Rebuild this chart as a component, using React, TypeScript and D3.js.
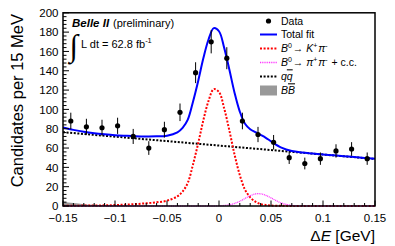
import React from 'react';
import * as d3 from 'd3';

// data points (bin centres in GeV, 15 MeV bins)
const binCenters = [-0.1425, -0.1275, -0.1125, -0.0975, -0.0825, -0.0675, -0.0525, -0.0375, -0.0225, -0.0075,
  0.0075, 0.0225, 0.0375, 0.0525, 0.0675, 0.0825, 0.0975, 0.1125, 0.1275, 0.1425];
const counts = [88, 82, 81, 83, 72, 60, 79, 97, 138, 170, 153, 88, 74, 66, 50, 44, 49, 57, 59, 49];
const countErrors = [8.6, 8.3, 8.3, 8.4, 7.8, 7.1, 8.2, 9.1, 10.8, 12.0, 11.4, 8.6, 7.9, 7.5, 6.5, 6.1, 6.4, 6.9, 7.1, 6.4];

// fit curves
const fitDE = [-0.15, -0.14, -0.13, -0.12, -0.11, -0.10, -0.09, -0.08, -0.07, -0.06, -0.05, -0.04,
  -0.035, -0.03, -0.025, -0.02, -0.015, -0.01, -0.005, 0, 0.005, 0.01, 0.015, 0.02, 0.025, 0.03, 0.035, 0.04, 0.045,
  0.05, 0.06, 0.07, 0.08, 0.09, 0.10, 0.11, 0.12, 0.13, 0.14, 0.15];
const totalFit = [81.2, 78.8, 76.8, 75.3, 74.2, 73.3, 72.7, 72.2, 72.0, 72.1, 72.8, 76.3,
  80.9, 89.4, 108.0, 129.5, 153.1, 172.6, 184.1, 180.9, 163.7, 141.0, 117.0, 97.7, 85.2, 79.5, 76.4, 73.6, 70.6,
  66.9, 60.4, 56.9, 55.4, 54.4, 53.4, 52.5, 51.6, 50.7, 49.7, 48.8];
const sigKpi = [0.3, 0.3, 0.4, 0.5, 0.7, 1.0, 1.4, 2.0, 2.8, 3.8, 5.5, 10,
  15, 24, 43, 65, 89, 109, 121, 118, 101, 78, 53, 32, 17, 9, 4.5, 2, 1,
  0.5, 0.2, 0.1, 0, 0, 0, 0, 0, 0, 0, 0];
const sigPipi = [0, 0, 0, 0, 0, 0, 0, 0, 0, 0, 0, 0,
  0, 0, 0, 0, 0, 0, 0, 0.2, 0.5, 1.3, 2.7, 4.9, 7.8, 10.6, 12.5, 12.6, 11.1,
  8.4, 3.1, 0.6, 0.1, 0, 0, 0, 0, 0, 0, 0];
const bbBar = [4.5, 3.0, 1.9, 1.2, 0.8, 0.5, 0.35, 0.25, 0.2, 0.15, 0.1, 0.1,
  0.1, 0.1, 0.1, 0.1, 0.1, 0.1, 0.1, 0.1, 0.1, 0.1, 0.1, 0.1, 0.1, 0.1, 0.1, 0.1, 0.1,
  0.1, 0.1, 0.1, 0.1, 0.1, 0.1, 0.1, 0.1, 0.1, 0.1, 0.1];
const qqDE = [-0.15, 0.15];
const qqFit = [76.4, 48.7];

const yTicks = [0, 20, 40, 60, 80, 100, 120, 140, 160, 180, 200];
const xTicks = [-0.15, -0.1, -0.05, 0, 0.05, 0.1, 0.15];
const xTickLabels = ['\u22120.15', '\u22120.1', '\u22120.05', '0', '0.05', '0.1', '0.15'];

const FONT = 'Liberation Sans, Arial, Helvetica, sans-serif';

const App = () => {
  const width = 395;
  const height = 246;
  const x = d3.scaleLinear().domain([-0.15, 0.15]).range([63, 375]);
  const y = d3.scaleLinear().domain([0, 200]).range([206, 12.8]);

  const curve = (vals: number[]) =>
    d3.line<number>()
      .x((_, i) => x(fitDE[i]))
      .y(d => y(d))
      .curve(d3.curveCatmullRom)(vals) || '';

  const bbArea = d3.area<number>()
    .x((_, i) => x(fitDE[i]))
    .y0(y(0))
    .y1(d => y(d))
    .curve(d3.curveMonotoneX)(bbBar) || '';

  const qqLine = d3.line<number>()
    .x((_, i) => x(qqDE[i]))
    .y(d => y(d))(qqFit) || '';

  const xMinor = d3.range(-15, 16).map(v => v / 100);
  const yMinor = d3.range(0, 201, 4);

  const sup = (s: string, size = 7, shift = 4.5) => [
    <tspan key={'a' + s} fontSize={size} dy={-shift}>{s}</tspan>,
    <tspan key={'b' + s} dy={shift}>{'\u200a'}</tspan>,
  ];

  const legendRows = [21, 34.5, 48.5, 62.5, 76.5, 90.5];
  const lx0 = 260, lx1 = 277, tx = 281;

  return (
    <svg width={width} height={height} style={{ position: 'absolute', left: 0, top: 0 }} fontFamily={FONT}>
      <rect x={0} y={0} width={width} height={height} fill="white" />

      {/* curves */}
      <path d={bbArea} fill="#999" stroke="none" />
      <path d={qqLine} fill="none" stroke="black" strokeWidth={2} strokeDasharray="2 1.6" />
      <path d={curve(sigKpi)} fill="none" stroke="#ff0000" strokeWidth={2} strokeDasharray="2 1.6" />
      <path d={curve(sigPipi)} fill="none" stroke="#ff33ff" strokeWidth={1.3} strokeDasharray="1 0.8" />
      <path d={curve(totalFit)} fill="none" stroke="#0000ff" strokeWidth={2} />

      {/* data */}
      {binCenters.map((c, i) => (
        <g key={i}>
          <line x1={x(c)} x2={x(c)} y1={y(counts[i] - countErrors[i])} y2={y(counts[i] + countErrors[i])}
            stroke="black" strokeWidth={1} />
          <circle cx={x(c)} cy={y(counts[i])} r={2.6} fill="black" />
        </g>
      ))}

      {/* frame */}
      <rect x={63} y={y(200)} width={312} height={y(0) - y(200)} fill="none" stroke="black" strokeWidth={1.5} />

      {/* y axis ticks */}
      {yMinor.map(v => (
        <line key={v} x1={63} x2={63 + (v % 20 === 0 ? 6 : 3.5)} y1={y(v)} y2={y(v)} stroke="black" strokeWidth={1} />
      ))}
      {yTicks.map(v => (
        <text key={v} x={58.5} y={y(v)} dy="0.36em" textAnchor="end" fontSize={11.5}>{v}</text>
      ))}

      {/* x axis ticks */}
      {xMinor.map(v => (
        <line key={v} x1={x(v)} x2={x(v)} y1={206} y2={206 - (Math.round(v * 100) % 5 === 0 ? 5.5 : 3)}
          stroke="black" strokeWidth={1} />
      ))}
      {xTicks.map((v, i) => (
        <text key={v} x={x(v)} y={221.5} textAnchor="middle" fontSize={11.5}>{xTickLabels[i]}</text>
      ))}

      {/* axis titles */}
      <text transform="translate(22.5,14) rotate(-90)" textAnchor="end" fontSize={16.5}>Candidates per 15 MeV</text>
      <text x={375} y={240.5} textAnchor="end" fontSize={15.5}>
        {'\u0394'}<tspan fontStyle="italic">E</tspan> [GeV]
      </text>

      {/* experiment label */}
      <text x={72} y={26.5} fontSize={11.5} fontWeight="bold" fontStyle="italic">Belle II</text>
      <text x={113} y={26.5} fontSize={11}>(preliminary)</text>
      <text x={69.5} y={55.5} fontSize={31} fontFamily="DejaVu Sans" fontWeight="200">{'\u222B'}</text>
      <text x={81} y={48.3} fontSize={11}>
        L dt = 62.8 fb<tspan fontSize={7.5} dy={-5}>-1</tspan>
      </text>

      {/* legend */}
      <circle cx={268.5} cy={legendRows[0]} r={2.6} fill="black" />
      <text x={tx} y={legendRows[0] + 3.8} fontSize={10.5}>Data</text>

      <line x1={lx0} x2={lx1} y1={legendRows[1]} y2={legendRows[1]} stroke="#0000ff" strokeWidth={2} />
      <text x={tx} y={legendRows[1] + 3.8} fontSize={10.5}>Total fit</text>

      <line x1={lx0} x2={lx1} y1={legendRows[2]} y2={legendRows[2]} stroke="#ff0000" strokeWidth={2} strokeDasharray="2 1.6" />
      <text x={tx} y={legendRows[2] + 3.8} fontSize={10.5}>
        <tspan fontStyle="italic">B</tspan>{sup('0')}{'\u2192 '}<tspan fontStyle="italic">K</tspan>{sup('+')}
        <tspan fontStyle="italic">{'\u03C0'}</tspan>{sup('-')}
      </text>

      <line x1={lx0} x2={lx1} y1={legendRows[3]} y2={legendRows[3]} stroke="#ff33ff" strokeWidth={1.3} strokeDasharray="1 0.8" />
      <text x={tx} y={legendRows[3] + 3.8} fontSize={10.5}>
        <tspan fontStyle="italic">B</tspan>{sup('0')}{'\u2192 '}<tspan fontStyle="italic">{'\u03C0'}</tspan>{sup('+')}
        <tspan fontStyle="italic">{'\u03C0'}</tspan>{sup('-')}<tspan> + c.c.</tspan>
      </text>

      <line x1={lx0} x2={lx1} y1={legendRows[4]} y2={legendRows[4]} stroke="black" strokeWidth={2} strokeDasharray="2 1.6" />
      <text x={tx} y={legendRows[4] + 3.8} fontSize={10.5} fontStyle="italic">
        q<tspan textDecoration="overline">q</tspan>
      </text>

      <rect x={lx0} y={legendRows[5] - 5} width={lx1 - lx0} height={10} fill="#999" />
      <text x={tx} y={legendRows[5] + 3.8} fontSize={10.5} fontStyle="italic">
        B<tspan textDecoration="overline">B</tspan>
      </text>
    </svg>
  );
};

export default App;
